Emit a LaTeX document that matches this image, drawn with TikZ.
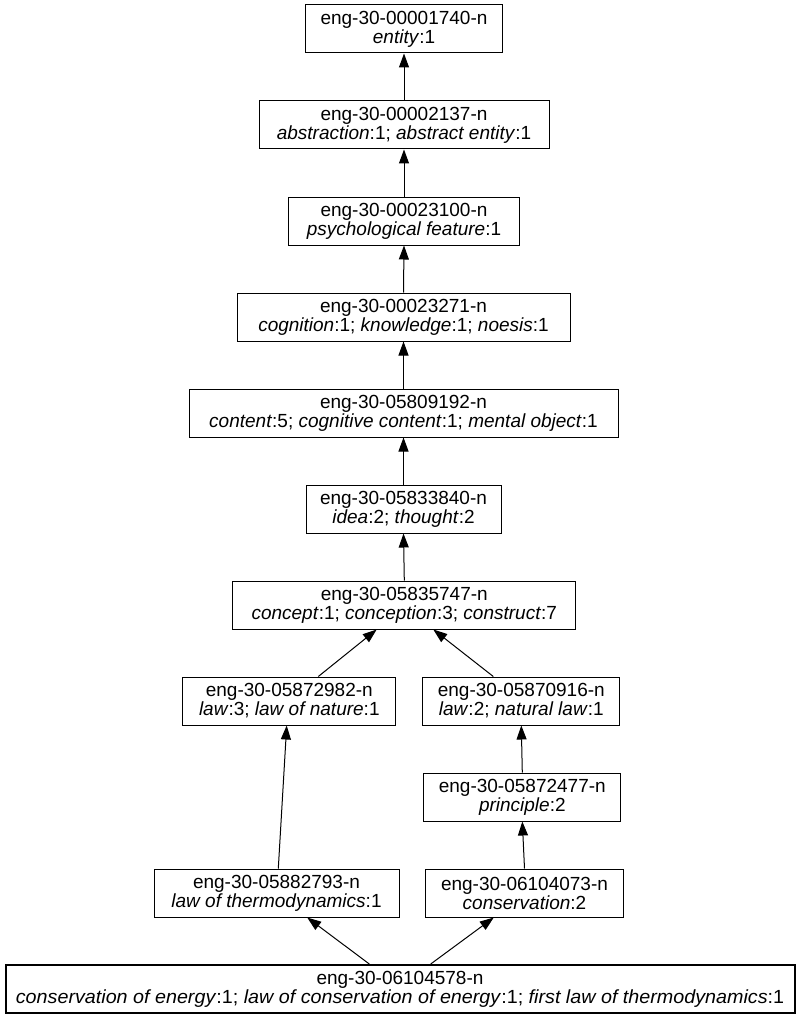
\documentclass[tikz,border=0pt]{standalone}
\usepackage{fontspec}
\setmainfont{Liberation Sans}
\usetikzlibrary{arrows.meta}
\begin{document}
\begin{tikzpicture}[x=1pt,y=-1pt,
  syn/.style={draw=black,line width=1pt,minimum height=48pt,inner sep=0pt,align=center,
    font=\fontsize{19}{19}\selectfont},
  arr/.style={draw=black,line width=1pt,-{Triangle[length=14pt,width=10pt]}}]
\useasboundingbox (0,0) rectangle (800,1019);
\node[syn,minimum width=197pt] (n1) at (404,29) {eng-30-00001740-n\\\textit{entity}:1};
\node[syn,minimum width=290pt] (n2) at (404,125) {eng-30-00002137-n\\\textit{abstraction}:1; \textit{abstract entity}:1};
\node[syn,minimum width=231pt] (n3) at (404,221) {eng-30-00023100-n\\\textit{psychological feature}:1};
\node[syn,minimum width=333pt] (n4) at (403.5,317) {eng-30-00023271-n\\\textit{cognition}:1; \textit{knowledge}:1; \textit{noesis}:1};
\node[syn,minimum width=429pt] (n5) at (403.5,413) {eng-30-05809192-n\\\textit{content}:5; \textit{cognitive content}:1; \textit{mental object}:1};
\node[syn,minimum width=195pt] (n6) at (403.5,509) {eng-30-05833840-n\\\textit{idea}:2; \textit{thought}:2};
\node[syn,minimum width=343pt] (n7) at (404.3,605) {eng-30-05835747-n\\\textit{concept}:1; \textit{conception}:3; \textit{construct}:7};
\node[syn,minimum width=213pt] (n8) at (289.3,701) {eng-30-05872982-n\\\textit{law}:3; \textit{law of nature}:1};
\node[syn,minimum width=197pt] (n9) at (521.3,701) {eng-30-05870916-n\\\textit{law}:2; \textit{natural law}:1};
\node[syn,minimum width=197pt] (n10) at (522.3,797) {eng-30-05872477-n\\\textit{principle}:2};
\node[syn,minimum width=245pt] (n11) at (276.5,893) {eng-30-05882793-n\\\textit{law of thermodynamics}:1};
\node[syn,minimum width=198pt] (n12) at (524.5,893) {eng-30-06104073-n\\\textit{conservation}:2};
\node[syn,line width=2pt,minimum width=789pt] (n13) at (400,989) {eng-30-06104578-n\\\scalebox{1.038}[1]{\textit{conservation of energy}:1; \textit{law of conservation of energy}:1; \textit{first law of thermodynamics}:1}};
\draw[arr] (n2.north) -- (n1.south);
\draw[arr] (n3.north) -- (n2.south);
\draw[arr] (n4.north) -- (n3.south);
\draw[arr] (n5.north) -- (n4.south);
\draw[arr] (n6.north) -- (n5.south);
\draw[arr] (n7.north) -- (n6.south);
\draw[arr] ([xshift=29pt]n8.north) -- ([xshift=-27.6pt]n7.south);
\draw[arr] ([xshift=-28pt]n9.north) -- ([xshift=29pt]n7.south);
\draw[arr] (n10.north) -- (n9.south);
\draw[arr] (n12.north) -- (n10.south);
\draw[arr] ([xshift=1.8pt]n11.north) -- ([xshift=-2.6pt]n8.south);
\draw[arr] ([xshift=-30.7pt]n13.north) -- ([xshift=30.7pt]n11.south);
\draw[arr] ([xshift=30.7pt]n13.north) -- ([xshift=-30.7pt]n12.south);
\end{tikzpicture}
\end{document}
